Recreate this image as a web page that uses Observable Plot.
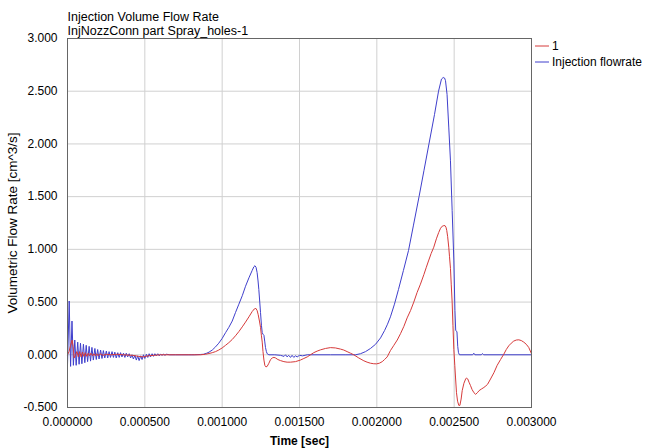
<!DOCTYPE html>
<html><head><meta charset="utf-8">
<script src="https://cdn.jsdelivr.net/npm/d3@7"></script>
<script src="https://cdn.jsdelivr.net/npm/@observablehq/plot@0.6"></script>
<style>
body{margin:0;background:#fff;}
#wrap{position:relative;width:646px;height:448px;font-family:'Liberation Sans',Arial,sans-serif;}
.leg{position:absolute;left:535px;height:14px;line-height:14px;font-size:12px;color:#000;white-space:nowrap;display:flex;align-items:center;}
.leg svg{display:block;margin-right:3px;}
</style></head><body><div id="wrap"></div>
<script>
const title = "Injection Volume Flow Rate";
const subtitle = "InjNozzConn part Spray_holes-1";
const xLabel = "Time [sec]";
const yLabel = "Volumetric Flow Rate [cm^3/s]";
const seriesNames = ["1", "Injection flowrate"];
const RED = "#d63a3a", BLUE = "#3f3fcc";
const xTicks = [0, 0.0005, 0.001, 0.0015, 0.002, 0.0025, 0.003];
const yTicks = [-0.5, 0, 0.5, 1.0, 1.5, 2.0, 2.5, 3.0];

// time in microseconds, value in cm^3/s
const blueFlow = [
[0,-0.10],[11,0.51],[20,-0.11],[29,0.32],[38,-0.10],[47,0.14],[56,-0.10],[66,0.12],[75,-0.09],[84,0.11],
[93,-0.085],[103,0.10],[112,-0.075],[121,0.09],[130,-0.065],[140,0.08],[149,-0.06],[158,0.07],[167,-0.05],[177,0.06],
[186,-0.045],[195,0.05],[204,-0.04],[214,0.045],[223,-0.035],[232,0.04],[241,-0.03],[251,0.035],[260,-0.03],[269,0.03],
[278,-0.025],[288,0.03],[297,-0.025],[306,0.025],[315,-0.03],[325,0.02],[334,-0.025],[343,0.02],[352,-0.02],[362,0.015],
[371,-0.025],[380,0.015],[389,-0.02],[399,0.01],[408,-0.03],[417,0.0],[426,-0.04],[436,-0.005],[445,-0.05],[454,-0.01],
[463,-0.055],[473,-0.01],[482,-0.045],[491,0.0],[500,-0.035],[510,0.005],[519,-0.025],[528,0.01],[537,-0.02],[547,0.01],
[556,-0.015],[565,0.01],[574,-0.01],[584,0.01],[593,-0.01],[602,0.005],[611,-0.005],[621,0.005],[630,-0.005],[640,0.005],
[660,0.0],[700,0.0],[740,0.0],[780,0.0],[820,0.0],[860,0.003],
[880,0.005],[900,0.015],[915,0.025],[936,0.045],[957,0.075],[978,0.11],[1000,0.155],[1022,0.21],[1043,0.26],[1065,0.32],
[1086,0.40],[1108,0.48],[1130,0.56],[1151,0.65],[1173,0.73],[1194,0.80],[1205,0.835],[1212,0.845],[1219,0.83],[1226,0.78],
[1232,0.70],[1237,0.62],[1243,0.50],[1248,0.40],[1254,0.28],[1259,0.21],[1264,0.195],[1270,0.185],[1275,0.13],[1280,0.07],
[1286,0.03],[1291,0.01],[1302,0.0],[1340,0.0],[1377,-0.005],[1400,-0.015],[1410,0.0],[1420,-0.02],[1430,-0.005],[1442,-0.025],
[1452,-0.005],[1463,-0.025],[1474,-0.01],[1485,-0.02],[1500,-0.005],[1520,-0.01],[1550,0.0],[1600,0.0],[1700,0.0],[1800,0.0],
[1862,0.0],[1894,0.01],[1927,0.03],[1959,0.06],[1992,0.10],[2024,0.16],[2050,0.23],[2069,0.29],[2088,0.36],[2114,0.48],
[2140,0.62],[2172,0.80],[2205,0.99],[2237,1.23],[2273,1.50],[2305,1.75],[2337,2.00],[2373,2.28],[2399,2.50],[2418,2.615],
[2429,2.63],[2438,2.625],[2444,2.60],[2454,2.47],[2465,2.16],[2476,1.84],[2487,1.37],[2498,0.89],[2505,0.42],[2510,0.23],
[2518,0.22],[2523,0.08],[2528,0.02],[2534,0.0],[2620,0.0],[2627,0.015],[2634,0.0],[2676,0.0],[2683,0.012],[2690,0.0],[3000,0.0]
];

const redFlow = [
[0,0],[10,0.03],[20,0.09],[30,0.14],[36,0.08],[43,-0.03],[52,0.0],[61,0.03],[70,-0.02],[79,0.03],
[88,-0.02],[97,0.025],[106,-0.015],[115,0.02],[125,-0.015],[134,0.015],[143,-0.01],[152,0.015],[162,-0.01],[171,0.01],
[180,-0.01],[189,0.01],[198,-0.01],[210,0.01],[230,-0.005],[250,0.005],[280,0],[320,0.005],[360,0],[420,-0.005],
[460,-0.015],[490,-0.02],[520,-0.01],[560,-0.005],[600,0],[700,0],[800,0],[860,0],
[892,0.005],[915,0.012],[936,0.02],[957,0.03],[978,0.045],[1000,0.065],[1022,0.09],[1043,0.115],[1065,0.145],[1086,0.18],
[1108,0.22],[1130,0.265],[1151,0.31],[1173,0.36],[1194,0.41],[1208,0.435],[1218,0.44],[1226,0.42],[1233,0.38],[1241,0.32],
[1248,0.26],[1254,0.18],[1259,0.12],[1264,0.03],[1270,-0.05],[1276,-0.10],[1283,-0.115],[1291,-0.11],[1302,-0.08],[1313,-0.045],
[1324,-0.03],[1335,-0.025],[1345,-0.03],[1360,-0.045],[1377,-0.055],[1399,-0.065],[1420,-0.07],[1442,-0.07],[1474,-0.065],[1506,-0.05],
[1528,-0.035],[1550,-0.02],[1571,0.0],[1592,0.02],[1614,0.035],[1636,0.047],[1668,0.06],[1700,0.068],[1732,0.065],[1765,0.054],
[1786,0.045],[1808,0.03],[1830,0.015],[1851,0.0],[1883,-0.03],[1916,-0.057],[1937,-0.07],[1959,-0.08],[1980,-0.085],[1998,-0.086],
[2016,-0.08],[2035,-0.065],[2050,-0.045],[2067,-0.02],[2088,0.04],[2110,0.09],[2132,0.14],[2153,0.20],[2175,0.27],[2196,0.35],
[2218,0.42],[2239,0.50],[2260,0.59],[2282,0.67],[2304,0.76],[2320,0.83],[2334,0.89],[2351,0.96],[2368,1.02],[2385,1.10],
[2400,1.16],[2412,1.20],[2423,1.22],[2433,1.225],[2441,1.225],[2447,1.21],[2452,1.18],[2458,1.12],[2465,1.02],[2470,0.93],
[2476,0.82],[2481,0.67],[2487,0.50],[2492,0.28],[2498,0.05],[2504,-0.10],[2509,-0.22],[2515,-0.36],[2522,-0.44],[2530,-0.48],
[2537,-0.48],[2545,-0.42],[2552,-0.34],[2563,-0.27],[2574,-0.23],[2580,-0.22],[2588,-0.23],[2596,-0.26],[2605,-0.29],[2616,-0.33],
[2628,-0.36],[2639,-0.375],[2650,-0.36],[2661,-0.34],[2676,-0.325],[2692,-0.31],[2705,-0.295],[2716,-0.28],[2735,-0.23],[2757,-0.17],
[2778,-0.10],[2800,-0.045],[2821,0.006],[2837,0.05],[2853,0.085],[2869,0.11],[2885,0.13],[2902,0.14],[2918,0.142],[2934,0.135],
[2950,0.12],[2966,0.10],[2982,0.07],[3000,0.01]
];

const toRows = arr => arr.map(([t, v]) => ({t: t * 1e-6, v}));
const blue = toRows(blueFlow);
const red = toRows(redFlow);

const loc = d3.formatLocale({decimal: ".", thousands: ",", grouping: [3], currency: ["", ""], minus: "-"});
const fmtY = loc.format(".3f");
const fmtX = loc.format(".6f");

const chart = Plot.plot({
  width: 646, height: 448,
  marginTop: 38, marginLeft: 67, marginRight: 115, marginBottom: 41,
  style: {fontFamily: "'Liberation Sans', Arial, sans-serif", fontSize: "12px", color: "#000", background: "#fff"},
  x: {domain: [0, 0.003]},
  y: {domain: [-0.5, 3]},
  marks: [
    Plot.gridX(xTicks, {stroke: "#d0d0d0", strokeOpacity: 1}),
    Plot.gridY(yTicks, {stroke: "#d0d0d0", strokeOpacity: 1}),
    Plot.axisX(xTicks, {tickFormat: fmtX, tickSize: 0, tickPadding: 10, label: null}),
    Plot.axisY(yTicks, {tickFormat: fmtY, tickSize: 0, tickPadding: 10, label: null}),
    Plot.line(blue, {x: "t", y: "v", stroke: BLUE, strokeWidth: 1}),
    Plot.line(red, {x: "t", y: "v", stroke: RED, strokeWidth: 1}),
    Plot.frame({stroke: "#666"}),
    Plot.text([xLabel], {text: d => d, frameAnchor: "bottom", lineAnchor: "middle", textAnchor: "middle", dy: 34, fontWeight: "bold", fontSize: 12}),
    Plot.text([yLabel], {text: d => d, frameAnchor: "left", lineAnchor: "middle", textAnchor: "middle", dx: -55, rotate: -90, fontSize: 13.5}),
    Plot.text([title], {text: d => d, frameAnchor: "top-left", lineAnchor: "middle", textAnchor: "start", dy: -22, fontSize: 12.5}),
    Plot.text([subtitle], {text: d => d, frameAnchor: "top-left", lineAnchor: "middle", textAnchor: "start", dy: -8, fontSize: 12.5})
  ]
});
const wrap = document.getElementById("wrap");
wrap.appendChild(chart);

const legColors = [RED, BLUE];
const legTops = [39, 55];
seriesNames.forEach((name, i) => {
  const row = document.createElement("div");
  row.className = "leg";
  row.style.top = legTops[i] + "px";
  row.innerHTML = `<svg width="14" height="14"><line x1="0" x2="14" y1="7" y2="7" stroke="${legColors[i]}" stroke-width="1"/></svg><span>${name}</span>`;
  wrap.appendChild(row);
});
</script>
</body></html>
